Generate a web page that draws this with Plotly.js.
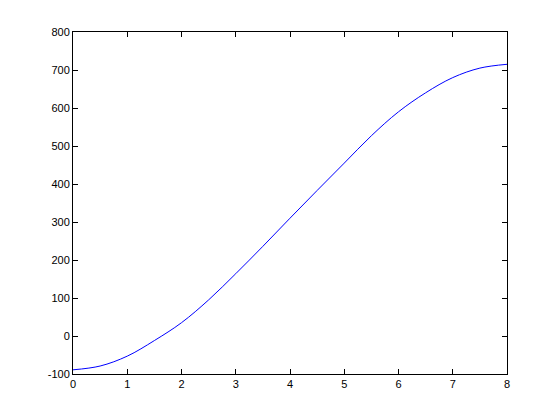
<!DOCTYPE html>
<html>
<head>
<meta charset="utf-8">
<script src="https://cdn.plot.ly/plotly-3.0.1.min.js"></script>
<style>html,body{margin:0;padding:0;background:#fff;}#plot{width:560px;height:420px;}</style>
</head>
<body>
<div id="plot"></div>
<script>
const xValues = [0, 0.5, 1, 1.5, 2, 2.5, 3, 3.5, 4, 4.5, 5, 5.5, 6, 6.5, 7, 7.5, 8];
const yValues = [-89, -79, -53, -12, 35, 95, 164, 236, 310, 383, 455, 527, 590, 640, 680, 705, 715];
const xTicks = [0, 1, 2, 3, 4, 5, 6, 7, 8];
const yTicks = [-100, 0, 100, 200, 300, 400, 500, 600, 700, 800];

const axisCommon = {
  showgrid: false, zeroline: false, showline: true, mirror: 'ticks',
  linecolor: '#000', linewidth: 1, ticks: 'inside', ticklen: 5, tickcolor: '#000',
  tickfont: {family: 'Liberation Sans, Arial, sans-serif', size: 11, color: '#000'}
};

Plotly.newPlot('plot', [{
  x: xValues, y: yValues, type: 'scatter', mode: 'lines',
  line: {color: '#0000ff', width: 1, shape: 'spline'}
}], {
  width: 560, height: 420,
  margin: {l: 73, r: 53, t: 32, b: 46},
  paper_bgcolor: '#fff', plot_bgcolor: '#fff',
  showlegend: false,
  xaxis: Object.assign({}, axisCommon, {range: [0, 8], tickvals: xTicks, ticktext: xTicks.map(String)}),
  yaxis: Object.assign({}, axisCommon, {range: [-100, 800], tickvals: yTicks, ticktext: yTicks.map(String)})
}, {staticPlot: true});
</script>
</body>
</html>
